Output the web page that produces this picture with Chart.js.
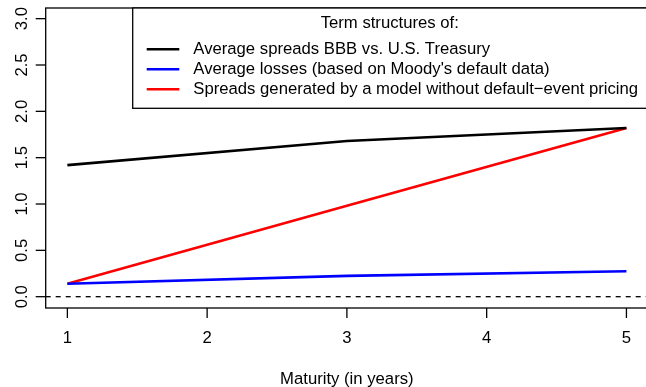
<!DOCTYPE html>
<html>
<head>
    <meta charset="UTF-8">
    <title>Term structures</title>
    <script src="https://cdn.jsdelivr.net/npm/chart.js"></script>
    <style>
        body { margin: 0; background: #fff; }
        canvas { display: block; }
    </style>
</head>
<body>
    <canvas id="chart" width="646" height="387"></canvas>

    <script>
        // Данные
        const maturities = [1, 3, 5];
        const spreadsBBB = [1.42, 1.68, 1.82];
        const avgLosses = [0.14, 0.225, 0.275];
        const modelSpreads = [0.14, 0.98, 1.82];

        const xTicks = [1, 2, 3, 4, 5];
        const yTicks = [0, 0.5, 1, 1.5, 2, 2.5, 3];
        const yTickLabels = ['0.0', '0.5', '1.0', '1.5', '2.0', '2.5', '3.0'];

        const legendTitle = 'Term structures of:';
        const xTitle = 'Maturity (in years)';

        const FONT = '16.7px "Liberation Sans", Arial, sans-serif';

        function pts(ys) {
            return maturities.map((m, i) => ({ x: m, y: ys[i] }));
        }

        // Оси, рамка и легенда в стиле R
        const rStyle = {
            id: 'rStyle',
            beforeDatasetsDraw(chart) {
                const ctx = chart.ctx;
                const a = chart.chartArea;
                const y0 = chart.scales.y.getPixelForValue(0);
                ctx.save();
                ctx.strokeStyle = '#000';
                ctx.lineWidth = 1.3;
                ctx.setLineDash([5, 5]);
                ctx.beginPath();
                ctx.moveTo(a.left, y0);
                ctx.lineTo(a.right, y0);
                ctx.stroke();
                ctx.restore();
            },
            afterDraw(chart) {
                const ctx = chart.ctx;
                const a = chart.chartArea;
                const xs = chart.scales.x;
                const ys = chart.scales.y;
                ctx.save();
                ctx.strokeStyle = '#000';
                ctx.fillStyle = '#000';
                ctx.lineWidth = 1.3;
                ctx.setLineDash([]);

                // рамка
                ctx.strokeRect(a.left, a.top, a.right - a.left + 2, a.bottom - a.top);

                ctx.font = FONT;

                // ось X
                ctx.textAlign = 'center';
                ctx.textBaseline = 'middle';
                xTicks.forEach(t => {
                    const px = xs.getPixelForValue(t);
                    ctx.beginPath();
                    ctx.moveTo(px, a.bottom);
                    ctx.lineTo(px, a.bottom + 10);
                    ctx.stroke();
                    ctx.fillText(String(t), px, 338);
                });
                ctx.fillText(xTitle, (a.left + 646) / 2 + 1, 379);

                // ось Y
                yTicks.forEach((t, i) => {
                    const py = ys.getPixelForValue(t);
                    ctx.beginPath();
                    ctx.moveTo(a.left - 10, py);
                    ctx.lineTo(a.left, py);
                    ctx.stroke();
                    ctx.save();
                    ctx.translate(22, py);
                    ctx.rotate(-Math.PI / 2);
                    ctx.fillText(yTickLabels[i], 0, 0);
                    ctx.restore();
                });

                // легенда
                const lx = 132.7, ly = a.top, lw = 646 - lx + 2, lh = 100.3;
                ctx.fillStyle = '#fff';
                ctx.fillRect(lx, ly, lw, lh);
                ctx.strokeRect(lx, ly, lw, lh);
                ctx.fillStyle = '#000';
                ctx.textAlign = 'center';
                ctx.fillText(legendTitle, (lx + 646.8) / 2, 23.3);
                ctx.textAlign = 'left';
                chart.data.datasets.forEach((ds, i) => {
                    const ry = 49.3 + i * 20;
                    ctx.strokeStyle = ds.borderColor;
                    ctx.lineWidth = 2.6;
                    ctx.beginPath();
                    ctx.moveTo(146.7, ry);
                    ctx.lineTo(179.3, ry);
                    ctx.stroke();
                    ctx.fillStyle = '#000';
                    ctx.fillText(ds.label, 193.3, ry);
                });
                ctx.restore();
            }
        };

        new Chart(document.getElementById('chart'), {
            type: 'line',
            data: {
                datasets: [
                    { label: 'Average spreads BBB vs. U.S. Treasury', data: pts(spreadsBBB), borderColor: '#000000' },
                    { label: "Average losses (based on Moody's default data)", data: pts(avgLosses), borderColor: '#0000FF' },
                    { label: 'Spreads generated by a model without default\u2212event pricing', data: pts(modelSpreads), borderColor: '#FF0000' }
                ]
            },
            options: {
                responsive: false,
                animation: false,
                devicePixelRatio: 1,
                layout: { padding: { left: 45.7, top: 8, right: 0, bottom: 79 } },
                elements: {
                    line: { borderWidth: 2.6, tension: 0, fill: false },
                    point: { radius: 0 }
                },
                plugins: { legend: { display: false }, tooltip: { enabled: false } },
                scales: {
                    x: { type: 'linear', min: 0.845, max: 5.14, display: false },
                    y: { type: 'linear', min: -0.122, max: 3.115, display: false }
                }
            },
            plugins: [rStyle]
        });
    </script>
</body>
</html>
